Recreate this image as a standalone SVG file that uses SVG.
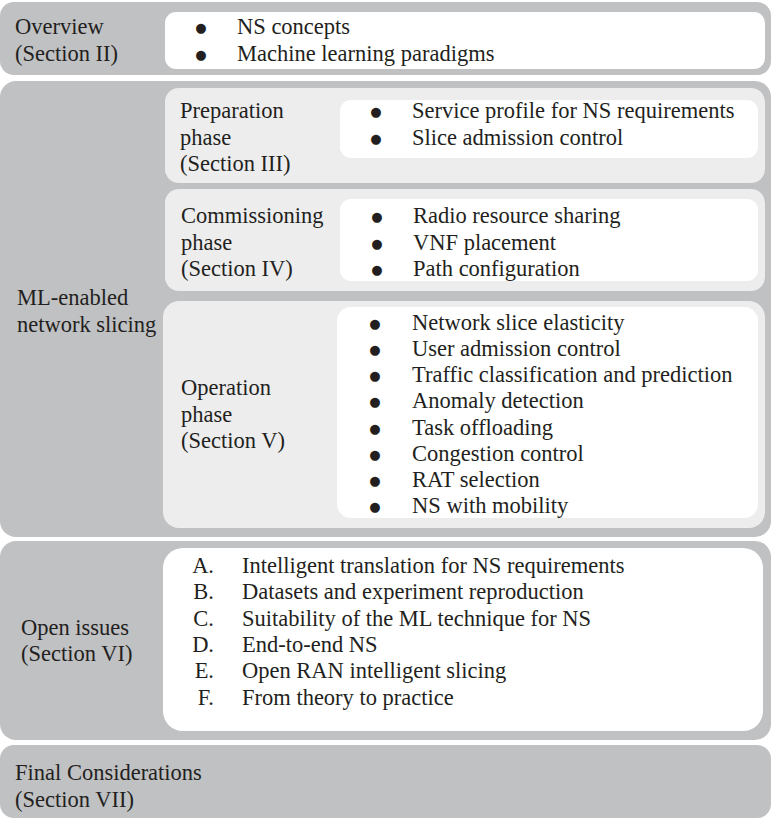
<svg xmlns="http://www.w3.org/2000/svg" width="772" height="820" viewBox="0 0 772 820">
<style>
.outer{fill:#c0c1c3}
.light{fill:#ededee}
.white{fill:#ffffff}
text{font-family:"Liberation Serif","Times New Roman",serif;font-size:22.5px;fill:#231f20}
.b{font-family:"DejaVu Sans",sans-serif;font-size:13px;text-anchor:middle}
.n{text-anchor:end}
</style>
<rect width="772" height="820" fill="#ffffff"/>
<g id="overview">
<rect class="outer" x="0" y="2" width="771" height="73" rx="14"/>
<rect class="white" x="165" y="12" width="600" height="57" rx="11"/>
<text x="15" y="34">Overview</text>
<text x="15" y="61">(Section II)</text>
<text class="b" x="201" y="32">●</text>
<text x="237" y="34">NS concepts</text>
<text class="b" x="201" y="59">●</text>
<text x="237" y="61">Machine learning paradigms</text>
</g>
<g id="ml-enabled">
<rect class="outer" x="0" y="81" width="771" height="456" rx="16"/>
<text x="17" y="305">ML-enabled</text>
<text x="17" y="332">network slicing</text>
</g>
<g id="preparation">
<rect class="light" x="165" y="88" width="600" height="95" rx="14"/>
<rect class="white" x="340" y="100" width="418" height="58" rx="11"/>
<text x="180" y="118">Preparation</text>
<text x="180" y="145">phase</text>
<text x="180" y="171">(Section III)</text>
<text class="b" x="376" y="116">●</text>
<text x="412" y="118">Service profile for NS requirements</text>
<text class="b" x="376" y="143">●</text>
<text x="412" y="145">Slice admission control</text>
</g>
<g id="commissioning">
<rect class="light" x="165" y="189" width="600" height="102" rx="14"/>
<rect class="white" x="340" y="199" width="418" height="82" rx="11"/>
<text x="181" y="223">Commissioning</text>
<text x="181" y="250">phase</text>
<text x="181" y="276">(Section IV)</text>
<text class="b" x="377" y="221">●</text>
<text x="413" y="223">Radio resource sharing</text>
<text class="b" x="377" y="248">●</text>
<text x="413" y="250">VNF placement</text>
<text class="b" x="377" y="274">●</text>
<text x="413" y="276">Path configuration</text>
</g>
<g id="operation">
<rect class="light" x="163" y="301" width="602" height="227" rx="16"/>
<rect class="white" x="337" y="307" width="421" height="211" rx="14"/>
<text x="181" y="395">Operation</text>
<text x="181" y="422">phase</text>
<text x="181" y="448">(Section V)</text>
<text class="b" x="375" y="328">●</text>
<text x="412" y="330">Network slice elasticity</text>
<text class="b" x="375" y="354">●</text>
<text x="412" y="356">User admission control</text>
<text class="b" x="375" y="380">●</text>
<text x="412" y="382">Traffic classification and prediction</text>
<text class="b" x="375" y="406">●</text>
<text x="412" y="408">Anomaly detection</text>
<text class="b" x="375" y="433">●</text>
<text x="412" y="435">Task offloading</text>
<text class="b" x="375" y="459">●</text>
<text x="412" y="461">Congestion control</text>
<text class="b" x="375" y="485">●</text>
<text x="412" y="487">RAT selection</text>
<text class="b" x="375" y="511">●</text>
<text x="412" y="513">NS with mobility</text>
</g>
<g id="open-issues">
<rect class="outer" x="0" y="541" width="771" height="199" rx="16"/>
<rect class="white" x="163" y="548" width="600" height="183" rx="20"/>
<text x="21" y="635">Open issues</text>
<text x="21" y="661">(Section VI)</text>
<text class="n" x="214" y="573">A.</text>
<text x="242" y="573">Intelligent translation for NS requirements</text>
<text class="n" x="214" y="599">B.</text>
<text x="242" y="599">Datasets and experiment reproduction</text>
<text class="n" x="214" y="626">C.</text>
<text x="242" y="626">Suitability of the ML technique for NS</text>
<text class="n" x="214" y="652">D.</text>
<text x="242" y="652">End-to-end NS</text>
<text class="n" x="214" y="678">E.</text>
<text x="242" y="678">Open RAN intelligent slicing</text>
<text class="n" x="214" y="705">F.</text>
<text x="242" y="705">From theory to practice</text>
</g>
<g id="final">
<rect class="outer" x="0" y="745" width="771" height="73" rx="14"/>
<text x="15" y="780">Final Considerations</text>
<text x="15" y="807">(Section VII)</text>
</g>
<g id="connectors"></g>
</svg>
